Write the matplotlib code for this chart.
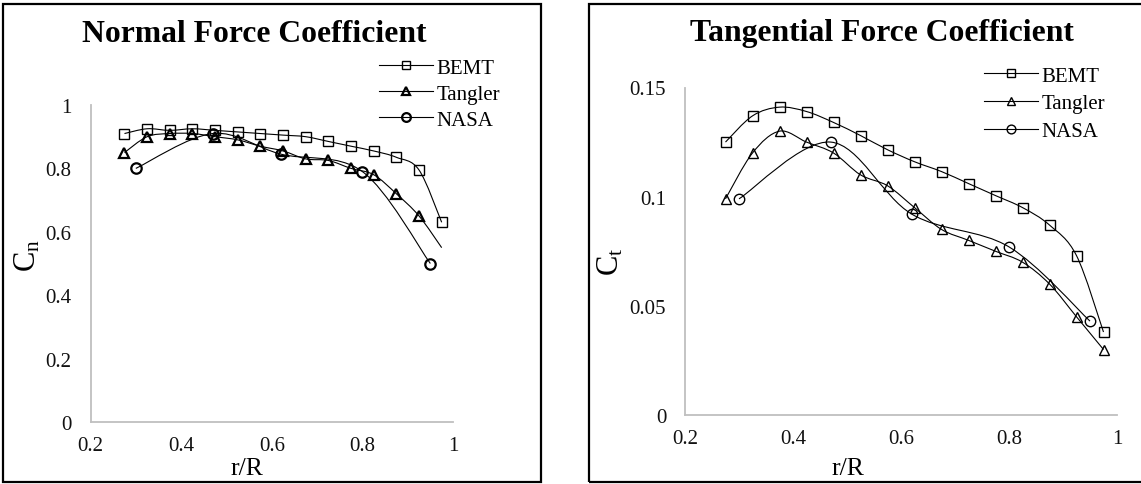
import numpy as np
import matplotlib
matplotlib.use('Agg')
import matplotlib.pyplot as plt
from matplotlib.path import Path
from matplotlib.patches import PathPatch, Rectangle
from matplotlib.lines import Line2D

plt.rcParams['font.family'] = ['Liberation Serif', 'DejaVu Serif']
plt.rcParams['mathtext.fontset'] = 'custom'
plt.rcParams['mathtext.rm'] = 'Liberation Serif'
plt.rcParams['mathtext.it'] = 'Liberation Serif:italic'

W, H = 1141, 485

# radial stations (r/R)
r_sta = [0.275, 0.325, 0.375, 0.425, 0.475, 0.525, 0.575, 0.625,
         0.675, 0.725, 0.775, 0.825, 0.875, 0.925, 0.975]
r_nasa = [0.30, 0.47, 0.62, 0.80, 0.95]

# normal force coefficient
cn_bemt = [0.91, 0.925, 0.92, 0.925, 0.92, 0.915, 0.91, 0.905,
           0.90, 0.885, 0.87, 0.855, 0.835, 0.795, 0.63]
cn_tangler = [0.85, 0.90, 0.91, 0.91, 0.90, 0.89, 0.87, 0.855,
              0.83, 0.825, 0.80, 0.78, 0.72, 0.65, 0.55]
cn_nasa = [0.80, 0.91, 0.845, 0.79, 0.50]

# tangential force coefficient
ct_bemt = [0.125, 0.137, 0.141, 0.139, 0.134, 0.128, 0.1215, 0.116,
           0.1115, 0.106, 0.1005, 0.095, 0.087, 0.073, 0.038]
ct_tangler = [0.099, 0.12, 0.13, 0.125, 0.12, 0.11, 0.105, 0.095,
              0.085, 0.08, 0.075, 0.07, 0.06, 0.045, 0.03]
ct_nasa = [0.099, 0.125, 0.092, 0.077, 0.043]

x_ticks = [0.2, 0.4, 0.6, 0.8, 1.0]
x_ticklabels = ['0.2', '0.4', '0.6', '0.8', '1']
cn_ticks = [0, 0.2, 0.4, 0.6, 0.8, 1.0]
cn_ticklabels = ['0', '0.2', '0.4', '0.6', '0.8', '1']
ct_ticks = [0, 0.05, 0.1, 0.15]
ct_ticklabels = ['0', '0.05', '0.1', '0.15']

series_names = ['BEMT', 'Tangler', 'NASA']
series_markers = ['s', '^', 'o']


def smooth_path(x, y):
    # spreadsheet style smoothed line: cubic bezier through every point
    pts = np.column_stack([x, y]).astype(float)
    n = len(pts)
    verts = [pts[0]]
    codes = [Path.MOVETO]
    for i in range(n - 1):
        p0 = pts[max(i - 1, 0)]
        p1 = pts[i]
        p2 = pts[i + 1]
        p3 = pts[min(i + 2, n - 1)]
        verts += [p1 + (p2 - p0) / 6, p2 - (p3 - p1) / 6, p2]
        codes += [Path.CURVE4] * 3
    return Path(verts, codes)


def draw_series(ax, x, y, marker, mew, markevery=None):
    ax.add_patch(PathPatch(smooth_path(x, y), fill=False, edgecolor='black',
                           lw=0.8, zorder=2))
    ax.plot(x, y, ls='none', marker=marker, ms=7.5, mfc='none', mec='black',
            mew=mew, markevery=markevery, zorder=3)


def style_axes(ax, yticks, yticklabels, ylim):
    ax.set_xlim(0.2, 1.0)
    ax.set_ylim(*ylim)
    ax.set_xticks(x_ticks)
    ax.set_xticklabels(x_ticklabels)
    ax.set_yticks(yticks)
    ax.set_yticklabels(yticklabels)
    for s in ['top', 'right']:
        ax.spines[s].set_visible(False)
    for s in ['left', 'bottom']:
        ax.spines[s].set_color('#bfbfbf')
        ax.spines[s].set_linewidth(1.3)
    ax.tick_params(axis='both', length=0, labelsize=15, colors='#111111')
    ax.tick_params(axis='x', pad=10)
    ax.tick_params(axis='y', pad=13.5)


def add_legend(ax, x0, y_top, mews, spacing):
    handles = [Line2D([], [], color='black', lw=0.8, marker=m, ms=6.3,
                      mfc='none', mec='black', mew=w)
               for m, w in zip(series_markers, mews)]
    ax.legend(handles, series_names, loc='upper left',
              bbox_to_anchor=(x0 / W, 1 - y_top / H),
              bbox_transform=ax.figure.transFigure, frameon=False,
              fontsize=15, handlelength=2.6, handletextpad=0.15,
              borderpad=0, borderaxespad=0, labelspacing=spacing, numpoints=1)


fig = plt.figure(figsize=(W / 100, H / 100), dpi=100)

# outer frames around each chart
fig.add_artist(Rectangle((3 / W, 1 - 483 / H), 538 / W, 478 / H,
                         transform=fig.transFigure, fill=False,
                         ec='black', lw=1.6))
fig.add_artist(Rectangle((589 / W, 1 - 483 / H), 570 / W, 478 / H,
                         transform=fig.transFigure, fill=False,
                         ec='black', lw=1.6))

# normal force
ax1 = fig.add_axes([90.5 / W, 1 - 423 / H, 362.5 / W, 317 / H])
style_axes(ax1, cn_ticks, cn_ticklabels, (0, 1.0))
draw_series(ax1, r_sta, cn_bemt, 's', 1.0)
draw_series(ax1, r_sta, cn_tangler, '^', 1.6, markevery=list(range(len(r_sta) - 1)))
draw_series(ax1, r_nasa, cn_nasa, 'o', 1.6)
add_legend(ax1, 379, 59, [1.0, 1.6, 1.6], 0.31)

fig.text(254 / W, 1 - 41.7 / H, 'Normal Force Coefficient', ha='center',
         va='baseline', fontsize=22.8, weight='bold')
fig.text(246.7 / W, 1 - 469 / H, 'r/R', ha='center', va='center', fontsize=18.5)
fig.text(27.5 / W, 1 - 256 / H, r'C$_\mathrm{n}$', ha='center', va='center',
         rotation=90, fontsize=22)

# tangential force
ax2 = fig.add_axes([685 / W, 1 - 416 / H, 432 / W, 327.5 / H])
style_axes(ax2, ct_ticks, ct_ticklabels, (0, 0.15))
draw_series(ax2, r_sta, ct_bemt, 's', 1.0)
draw_series(ax2, r_sta, ct_tangler, '^', 1.0)
draw_series(ax2, r_nasa, ct_nasa, 'o', 1.0)
add_legend(ax2, 984, 67, [1.0, 1.0, 1.0], 0.39)

fig.text(881.7 / W, 1 - 41 / H, 'Tangential Force Coefficient', ha='center',
         va='baseline', fontsize=22.8, weight='bold')
fig.text(847.5 / W, 1 - 469 / H, 'r/R', ha='center', va='center', fontsize=18.5)
fig.text(610.5 / W, 1 - 262 / H, r'C$_\mathrm{t}$', ha='center', va='center',
         rotation=90, fontsize=22)

fig.savefig('out.png', dpi=100)
